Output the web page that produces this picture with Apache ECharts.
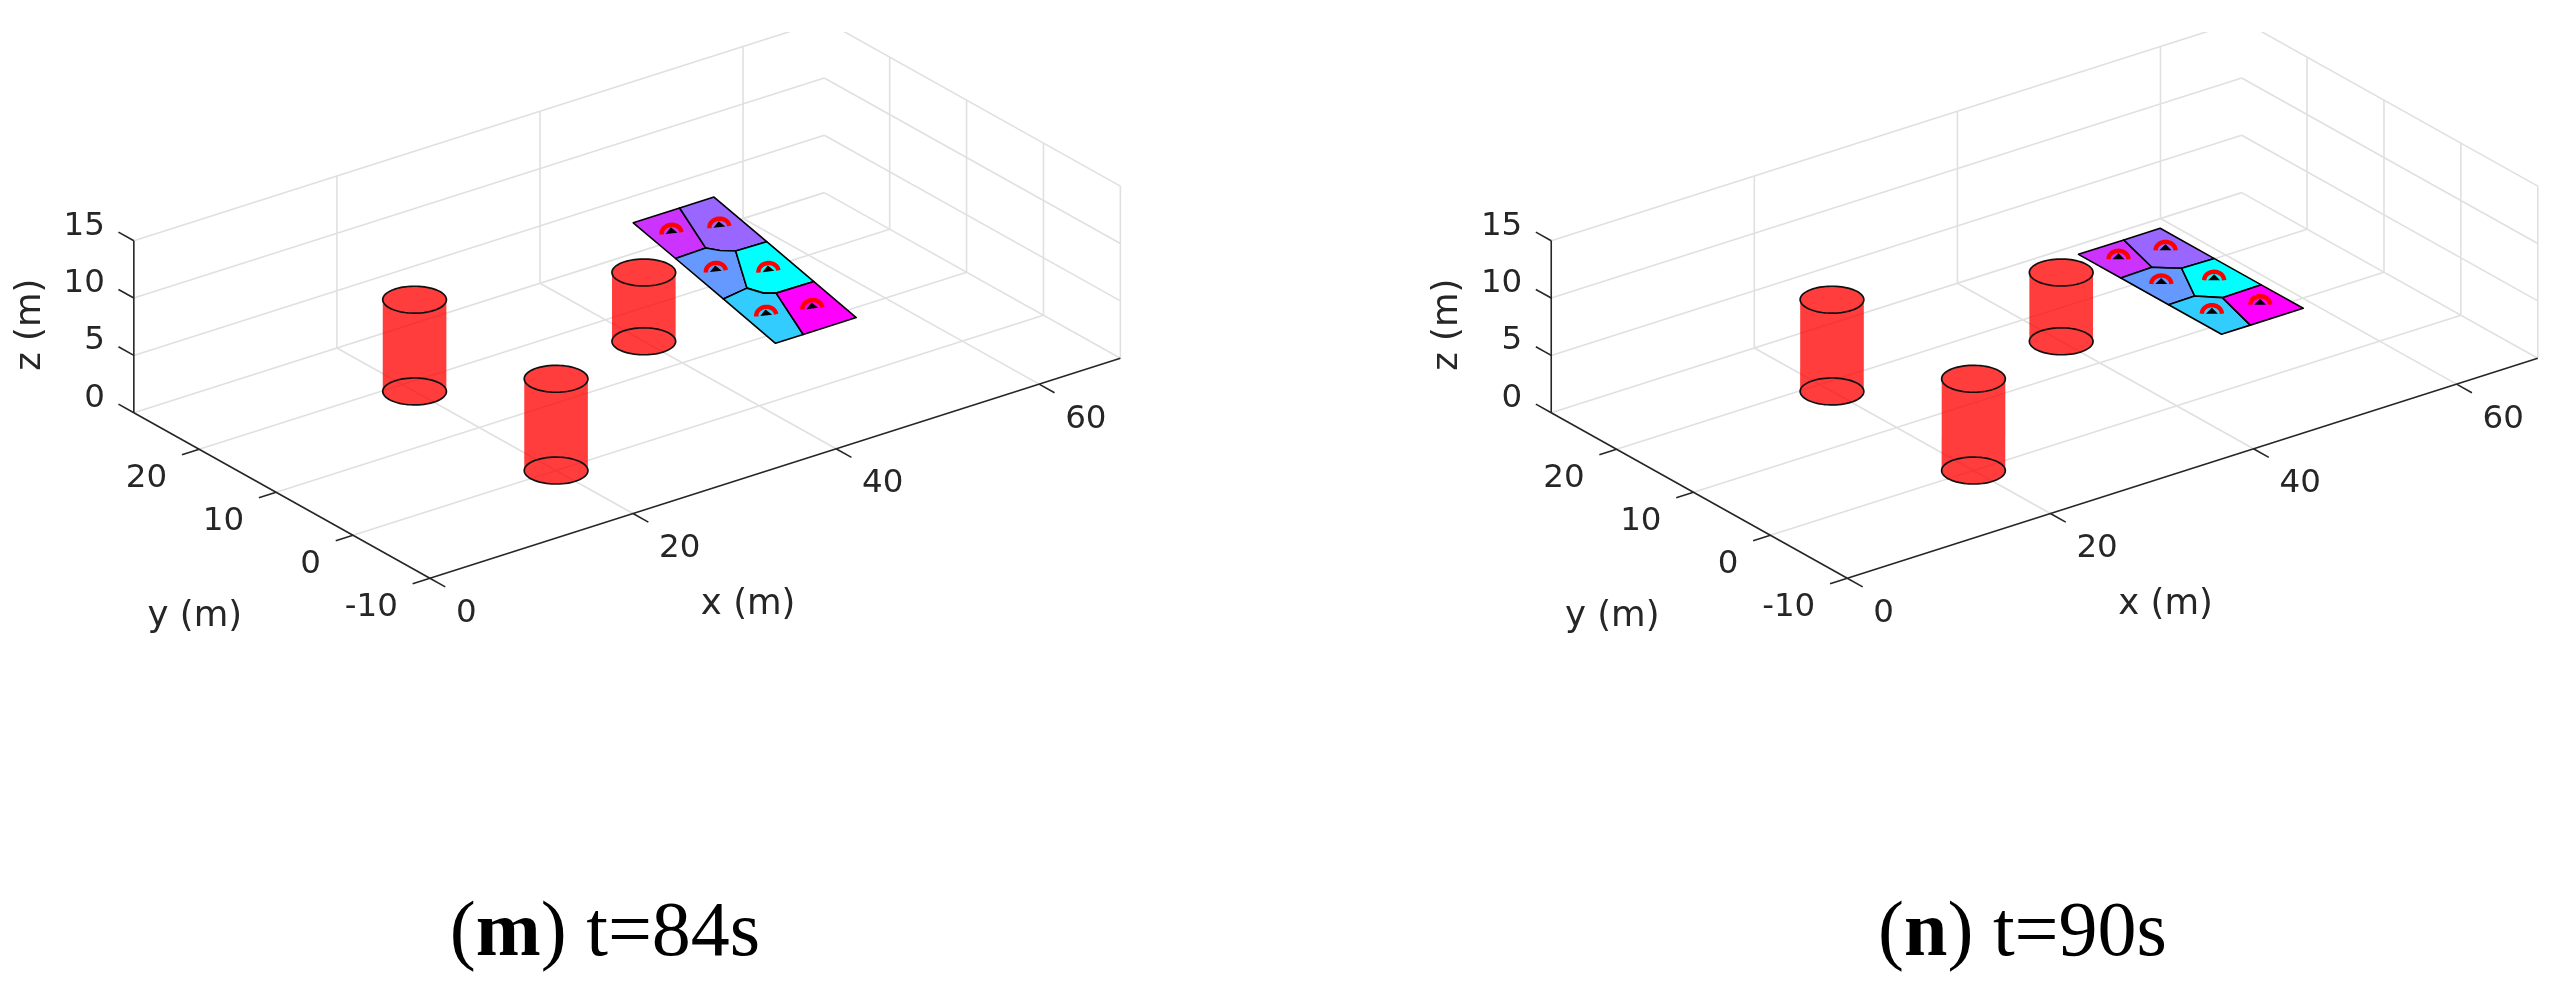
<!DOCTYPE html>
<html>
<head>
<meta charset="utf-8">
<style>html,body{margin:0;padding:0;background:#fff}#c{width:2567px;height:996px}</style>
<script src="https://cdn.jsdelivr.net/npm/echarts@6/dist/echarts.min.js"></script>
</head>
<body>
<div id="c"></div>
<script>
// ---- data (metres) ----
const xTicks = [0, 20, 40, 60];
const yTicks = [-10, 0, 10, 20];
const zTicks = [0, 5, 10, 15];
const xMax = 68, yMin = -10, yMax = 28.5, zMax = 15;
const cylinderX = [20, 20, 40];
const cylinderY = [18.4, 0, 15];
const cylinderHeight = [8, 8, 6];
const cylinderRadius = 2.5;
const cellColors = ['#CC33FF', '#9966FF', '#6699FF', '#00FFFF', '#33CCFF', '#FF00FF'];
// vertex ids per cell
const cellVertexIds = [
  ['A', 'P1', 'P3', 'P2'],
  ['P1', 'B', 'P5', 'P4', 'M', 'P3'],
  ['P2', 'P3', 'M', 'P4', 'P6', 'P7'],
  ['P4', 'P5', 'P9', 'P8', 'M2', 'P6'],
  ['P7', 'P6', 'M2', 'P8', 'P10', 'D'],
  ['P8', 'P9', 'C', 'P10']
];
const verticesM = {
  A: [37.9, 13.6, 11.45], B: [45.85, 13.6, 11.45], C: [45.85, -4.9, 7.88], D: [37.9, -4.9, 7.88],
  P1: [42.47, 13.6, 11.45], P2: [37.9, 8.1, 10.4], P3: [40.94, 8.18, 10.42], M: [41.75, 7.42, 10.27],
  P4: [42.83, 6.79, 10.15], P5: [45.85, 6.74, 10.13], P6: [40.51, 2.26, 9.27], P7: [37.9, 1.89, 9.2],
  M2: [41.27, 1.11, 9.05], P8: [42.18, 0.67, 8.96], P9: [45.85, 0.61, 8.95], P10: [40.63, -4.9, 7.88]
};
const verticesN = {
  A: [38.1, 10.25, 9.9], B: [46.15, 10.25, 9.9], C: [46.15, -8.35, 9.9], D: [38.1, -8.35, 9.9],
  P1: [42.56, 10.25, 9.9], P2: [38.1, 4.74, 9.9], P3: [41.26, 4.86, 9.9], M: [42.1, 4.1, 9.9],
  P4: [43.01, 3.31, 9.9], P5: [46.15, 3.2, 9.9], P6: [40.72, -1.41, 9.9], P7: [38.1, -1.47, 9.9],
  M2: [41.5, -2.2, 9.9], P8: [42.27, -2.96, 9.9], P9: [46.15, -2.9, 9.9], P10: [40.94, -8.35, 9.9]
};
const markersM = [[39.74, 11.05, 10.97], [43.68, 10.03, 10.78], [39.7, 5.24, 9.84], [43.45, 3.35, 9.48], [39.59, -1.46, 8.55], [43.47, -2.33, 8.38]];
const markersN = [[40.06, 7.63, 9.9], [44.01, 6.73, 9.9], [39.97, 1.95, 9.9], [43.7, 0, 9.9], [39.81, -4.84, 9.9], [43.86, -5.78, 9.9]];

// ---- view: orthographic projection onto a plane, one unit = one pixel ----
const project = (x, y, z) => [10.154 * x - 7.69 * y, 3.237 * x + 4.30 * y + 11.47 * z];

const INK = '#262626', GRID = '#E0E0E0', SANS = '"DejaVu Sans"';

function gridSegments() {
  const s = [];
  const xs = xTicks.filter(v => v > 0), ysIn = yTicks.filter(v => v > yMin), zs = zTicks.filter(v => v > 0);
  xs.forEach(x => { s.push([[x, yMin, 0], [x, yMax, 0]]); s.push([[x, yMax, 0], [x, yMax, zMax]]); });
  ysIn.forEach(y => { s.push([[0, y, 0], [xMax, y, 0]]); s.push([[xMax, y, 0], [xMax, y, zMax]]); });
  s.push([[xMax, yMin, 0], [xMax, yMin, zMax]]);
  s.push([[0, yMax, 0], [xMax, yMax, 0]]);
  s.push([[xMax, yMax, 0], [xMax, yMin, 0]]);
  zs.forEach(z => { s.push([[0, yMax, z], [xMax, yMax, z]]); s.push([[xMax, yMax, z], [xMax, yMin, z]]); });
  return s;
}
function axisSegments() {
  const s = [[[0, yMin, 0], [xMax, yMin, 0]], [[0, yMin, 0], [0, yMax, 0]], [[0, yMax, 0], [0, yMax, zMax]]];
  xTicks.forEach(x => s.push([[x, yMin, 0], [x, yMin - 2, 0]]));
  yTicks.forEach(y => s.push([[0, y, 0], [-1.7, y, 0]]));
  zTicks.forEach(z => s.push([[0, yMax, z], [0, yMax + 2, z]]));
  return s;
}
const tickTexts = [];
xTicks.forEach(x => tickTexts.push({ p: [x, yMin, 0], t: String(x), dx: 26, dy: 35, a: 'left' }));
yTicks.forEach(y => tickTexts.push({ p: [0, y, 0], t: String(y), dx: -32, dy: 29.5, a: 'right' }));
zTicks.forEach(z => tickTexts.push({ p: [0, yMax, z], t: String(z), dx: -29, dy: -14.5, a: 'right' }));

const lineSeries = (idx, name, segs, stroke, width) => ({
  type: 'custom', name, coordinateSystem: 'cartesian2d', xAxisIndex: idx, yAxisIndex: idx,
  clip: true, silent: true, animation: false,
  data: segs.map((_, i) => [i, 0]),
  renderItem(params, api) {
    const seg = segs[params.dataIndex];
    const a = api.coord(project(...seg[0])), b = api.coord(project(...seg[1]));
    return { type: 'line', shape: { x1: a[0], y1: a[1], x2: b[0], y2: b[1] }, style: { stroke, lineWidth: width, fill: null } };
  }
});

function panelSeries(idx, vertices, markers, tilt) {
  const cells = cellVertexIds.map(ids => ids.map(id => vertices[id]));
  const out = [];
  out.push(lineSeries(idx, 'grid', gridSegments(), GRID, 1.6));
  out.push(lineSeries(idx, 'axes', axisSegments(), INK, 1.6));
  // tick labels
  out.push({
    type: 'custom', name: 'ticks', coordinateSystem: 'cartesian2d', xAxisIndex: idx, yAxisIndex: idx,
    silent: true, animation: false, data: tickTexts.map((_, i) => [i, 0]),
    renderItem(params, api) {
      const d = tickTexts[params.dataIndex];
      const c = api.coord(project(...d.p));
      return { type: 'text', x: c[0] + d.dx, y: c[1] + d.dy,
        style: { text: d.t, font: '32.5px ' + SANS, fill: INK, align: d.a, verticalAlign: 'middle' } };
    }
  });
  // axis names
  const names = [
    { t: 'x (m)', p: [xMax * 0.5, yMin, 0], dx: -27, dy: 137, r: 0 },
    { t: 'y (m)', p: [0, (yMin + yMax) / 2, 0], dx: -87, dy: 121, r: 0 },
    { t: 'z (m)', p: [0, yMax, zMax / 2], dx: -103.5, dy: -2, r: Math.PI / 2 }
  ];
  out.push({
    type: 'custom', name: 'names', coordinateSystem: 'cartesian2d', xAxisIndex: idx, yAxisIndex: idx,
    silent: true, animation: false, data: names.map((_, i) => [i, 0]),
    renderItem(params, api) {
      const d = names[params.dataIndex];
      const c = api.coord(project(...d.p));
      return { type: 'text', x: c[0] + d.dx, y: c[1] + d.dy, rotation: d.r,
        style: { text: d.t, font: '35.5px ' + SANS, fill: INK, align: 'center', verticalAlign: 'middle' } };
    }
  });
  // cylinders
  out.push({
    type: 'custom', name: 'obstacles', coordinateSystem: 'cartesian2d', xAxisIndex: idx, yAxisIndex: idx,
    silent: true, animation: false, data: cylinderX.map((x, i) => [x, cylinderY[i], cylinderHeight[i]]),
    renderItem(params, api) {
      const cx = api.value(0), cy = api.value(1), h = api.value(2);
      const ring = (z) => {
        const pts = [];
        for (let k = 0; k <= 72; k++) {
          const t = k / 72 * 2 * Math.PI;
          pts.push(api.coord(project(cx + cylinderRadius * Math.cos(t), cy + cylinderRadius * Math.sin(t), z)));
        }
        return pts;
      };
      const low = ring(0), top = ring(h);
      const lowFront = low.slice().filter(p => p[1] >= api.coord(project(cx, cy, 0))[1]);
      const topBack = top.slice().filter(p => p[1] <= api.coord(project(cx, cy, h))[1]);
      const outline = topBack.sort((a, b) => a[0] - b[0]).concat(lowFront.sort((a, b) => b[0] - a[0]));
      return { type: 'group', children: [
        { type: 'polygon', shape: { points: outline }, style: { fill: 'rgba(255,0,0,0.76)', stroke: null } },
        { type: 'polyline', shape: { points: low }, style: { stroke: '#111', lineWidth: 1.7, fill: null } },
        { type: 'polyline', shape: { points: top }, style: { stroke: '#111', lineWidth: 1.7, fill: null } }
      ] };
    }
  });
  // formation cells
  out.push({
    type: 'custom', name: 'cells', coordinateSystem: 'cartesian2d', xAxisIndex: idx, yAxisIndex: idx,
    silent: true, animation: false, data: cells.map((_, i) => [i, 0]),
    renderItem(params, api) {
      const pts = cells[params.dataIndex].map(v => api.coord(project(...v)));
      return { type: 'polygon', shape: { points: pts },
        style: { fill: cellColors[params.dataIndex], stroke: '#000', lineWidth: 1.6, lineJoin: 'round' } };
    }
  });
  // agents
  out.push({
    type: 'custom', name: 'agents', coordinateSystem: 'cartesian2d', xAxisIndex: idx, yAxisIndex: idx,
    silent: true, animation: false, data: markers.map(m => m.slice()),
    renderItem(params, api) {
      const c = api.coord(project(api.value(0), api.value(1), api.value(2)));
      const arc = [];
      for (let k = 0; k <= 20; k++) {
        const t = Math.PI * k / 20;
        arc.push([-10 * Math.cos(t), -8.5 * Math.sin(t)]);
      }
      return { type: 'group', x: c[0], y: c[1], rotation: -tilt, children: [
        { type: 'polygon', shape: { points: [[-6, 0], [6, 0], [0, -6]] }, style: { fill: '#000' } },
        { type: 'polyline', shape: { points: arc }, style: { stroke: '#FF0000', lineWidth: 4.4, fill: null } }
      ] };
    }
  });
  return out;
}

const hiddenAxis = (gridIndex, min, max) => ({ type: 'value', gridIndex, min, max, show: false, splitLine: { show: false } });
const caption = (center, letter, rest) => ({
  text: '{n|(}{b|' + letter + '}{n|) ' + rest + '}',
  left: center, top: 891, textAlign: 'center',
  textStyle: { fontWeight: 'normal', rich: {
    n: { fontFamily: '"Liberation Serif"', fontSize: 78, fontWeight: 'normal', color: '#000' },
    b: { fontFamily: '"Liberation Serif"', fontSize: 78, fontWeight: 'bold', color: '#000' }
  } }
});

const chart = echarts.init(document.getElementById('c'), null, { renderer: 'canvas' });
chart.setOption({
  backgroundColor: '#fff',
  animation: false,
  title: [caption(600, 'm', 't=84s'), caption(2017.5, 'n', 't=90s')],
  grid: [
    { left: 0, top: 32, width: 1284, height: 668, containLabel: false },
    { left: 1284, top: 32, width: 1283, height: 668, containLabel: false }
  ],
  xAxis: [hiddenAxis(0, -353, 931), hiddenAxis(1, -486.4, 796.6)],
  yAxis: [hiddenAxis(0, -164.7, 503.3), hiddenAxis(1, -164.7, 503.3)],
  series: [...panelSeries(0, verticesM, markersM, -0.11), ...panelSeries(1, verticesN, markersN, 0)]
});
</script>
</body>
</html>
